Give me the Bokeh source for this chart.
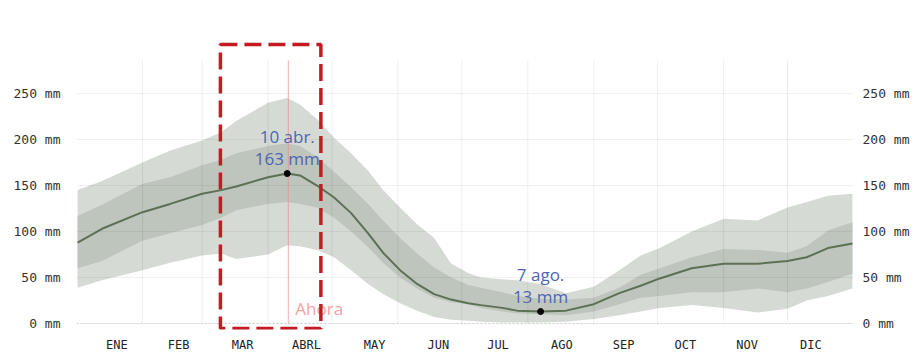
from bokeh.plotting import figure
from bokeh.models import Range1d, LinearAxis, FixedTicker
from bokeh.core.properties import value
from bokeh.embed import file_html
from bokeh.resources import INLINE

# ---- data (day of year, precipitation percentiles in mm) ----
days = [0.5, 12, 31, 44, 59, 68, 75, 90, 99, 105, 113, 121, 129, 137, 144, 152, 160,
        168, 176, 184, 190, 200, 207, 218, 230, 243, 255, 265, 274, 289, 304, 320,
        334, 343, 353, 364.5]
p10 = [39, 47, 58, 66, 74, 76, 70, 75, 85, 84, 80, 72, 58, 43, 32, 22, 14,
       7, 4, 3, 2, 1, 1, 1, 2, 5, 9, 13, 17, 20, 17, 12,
       16, 25, 30, 38]
p25 = [60, 68, 90, 98, 107, 115, 123, 130, 132, 130, 126, 115, 100, 83, 66, 50, 38,
       28, 23, 21, 17, 13, 11, 10, 9, 13, 21, 28, 30, 34, 34, 38,
       34, 38, 45, 54]
p50 = [88, 103, 121, 130, 141, 145, 149, 159, 163, 161, 150, 137, 120, 98, 77, 58, 43,
       32, 26, 22, 20, 17, 14, 13, 14, 21, 33, 41, 49, 60, 65, 65,
       68, 72, 82, 87]
p75 = [117, 129, 152, 159, 172, 178, 185, 193, 196, 193, 181, 165, 148, 130, 112, 93, 76,
       61, 50, 42, 39, 34, 30, 27, 26, 28, 39, 53, 60, 72, 81, 80,
       77, 84, 101, 110]
p90 = [145, 155, 175, 188, 199, 208, 220, 240, 245, 238, 222, 202, 185, 166, 145, 126, 108,
       93, 65, 55, 50, 48, 47, 43, 33, 40, 58, 74, 82, 100, 114, 112,
       126, 132, 139, 141]

month_starts = [31, 59, 90, 120, 151, 181, 212, 243, 273, 304, 334]
month_label_days = [19, 48, 78, 108, 140, 170, 198, 228, 257, 286, 315, 345]
month_labels = ["ENE", "FEB", "MAR", "ABRL", "MAY", "JUN", "JUL", "AGO", "SEP", "OCT", "NOV", "DIC"]
y_ticks = [0, 50, 100, 150, 200, 250]

max_day, max_val, max_date = 99, 163, "10 abr."
min_day, min_val, min_date = 218, 13, "7 ago."
now_day = 99.5
now_label = "Ahora"
highlight_days = (67.6, 114.8)
highlight_mm = (-5.4, 303.3)
grid_top = 286

# ---- styling ----
OUTER = "#d5dbd4"
INNER = "#bdc5bc"
MEDIAN = "#5d7056"
BLUE = "#4d66b3"
PINK = "#f4a3a3"
RED = "#c41a22"
MONO = "DejaVu Sans Mono"

p = figure(width=917, height=354, output_backend="svg", toolbar_location=None,
           x_range=Range1d(0, 365), y_range=Range1d(-6.5, 309.8),
           min_border_left=76, min_border_right=64, min_border_top=38, min_border_bottom=25,
           background_fill_color="white", border_fill_color="white")
p.outline_line_color = None
p.grid.visible = False

# bands
p.varea(x=days, y1=p10, y2=p90, fill_color=OUTER)
p.varea(x=days, y1=p25, y2=p75, fill_color=INNER)

# grid lines drawn over the bands, faintly
hx0 = [0] * (len(y_ticks) - 1)
hx1 = [365] * (len(y_ticks) - 1)
p.segment(x0=hx0, y0=y_ticks[1:], x1=hx1, y1=y_ticks[1:], line_color="black", line_alpha=0.06, line_width=1)
p.segment(x0=[0], y0=[y_ticks[0]], x1=[365], y1=[y_ticks[0]], line_color="#c8c8c8", line_dash="2 2", line_width=1)
p.segment(x0=month_starts, y0=[0] * len(month_starts), x1=month_starts, y1=[grid_top] * len(month_starts),
          line_color="black", line_alpha=0.07, line_width=1)

# median
p.line(x=days, y=p50, line_color=MEDIAN, line_width=2)

# "now" marker
p.segment(x0=[now_day], y0=[0], x1=[now_day], y1=[grid_top], line_color="#f08a8a", line_alpha=0.7, line_width=1)
p.text(x=[now_day], y=[0], text=[now_label], x_offset=7, y_offset=-15,
       text_font=value("Open Sans"), text_font_size="17px", text_color=PINK,
       text_align="left", text_baseline="middle")

# extremes
p.scatter(x=[max_day, min_day], y=[max_val, min_val], size=6, fill_color="black", line_color="black")
for d, v, lab in [(max_day, max_val, max_date), (min_day, min_val, min_date)]:
    p.text(x=[d], y=[v], text=[lab], y_offset=-37, text_font=value("Open Sans"), text_font_size="17px",
           text_color=BLUE, text_align="center", text_baseline="middle")
    p.text(x=[d], y=[v], text=[f"{v} mm"], y_offset=-15, text_font=value("Open Sans"), text_font_size="17px",
           text_color=BLUE, text_align="center", text_baseline="middle")

# highlight box
p.quad(left=[highlight_days[0]], right=[highlight_days[1]], bottom=[highlight_mm[0]], top=[highlight_mm[1]],
       fill_alpha=0, line_color=RED, line_width=3.5, line_dash="17 7")

# axes
def style_y(ax, standoff):
    ax.ticker = FixedTicker(ticks=y_ticks)
    ax.major_label_overrides = {t: f"{t} mm" for t in y_ticks}
    ax.axis_line_color = None
    ax.major_tick_line_color = None
    ax.minor_tick_line_color = None
    ax.major_tick_out = 0
    ax.major_tick_in = 0
    ax.major_label_standoff = standoff
    ax.major_label_text_font = MONO
    ax.major_label_text_font_size = "13px"
    ax.major_label_text_color = "#333333"

style_y(p.yaxis[0], 16)
right_axis = LinearAxis()
style_y(right_axis, 9)
p.add_layout(right_axis, "right")

xa = p.xaxis[0]
xa.ticker = FixedTicker(ticks=month_label_days)
xa.major_label_overrides = {d: m for d, m in zip(month_label_days, month_labels)}
xa.axis_line_color = None
xa.major_tick_line_color = None
xa.minor_tick_line_color = None
xa.major_tick_out = 0
xa.major_tick_in = 0
xa.major_label_standoff = 8
xa.major_label_text_font = MONO
xa.major_label_text_font_size = "12px"
xa.major_label_text_color = "#222222"

open("out.html", "w").write(file_html(p, INLINE))
